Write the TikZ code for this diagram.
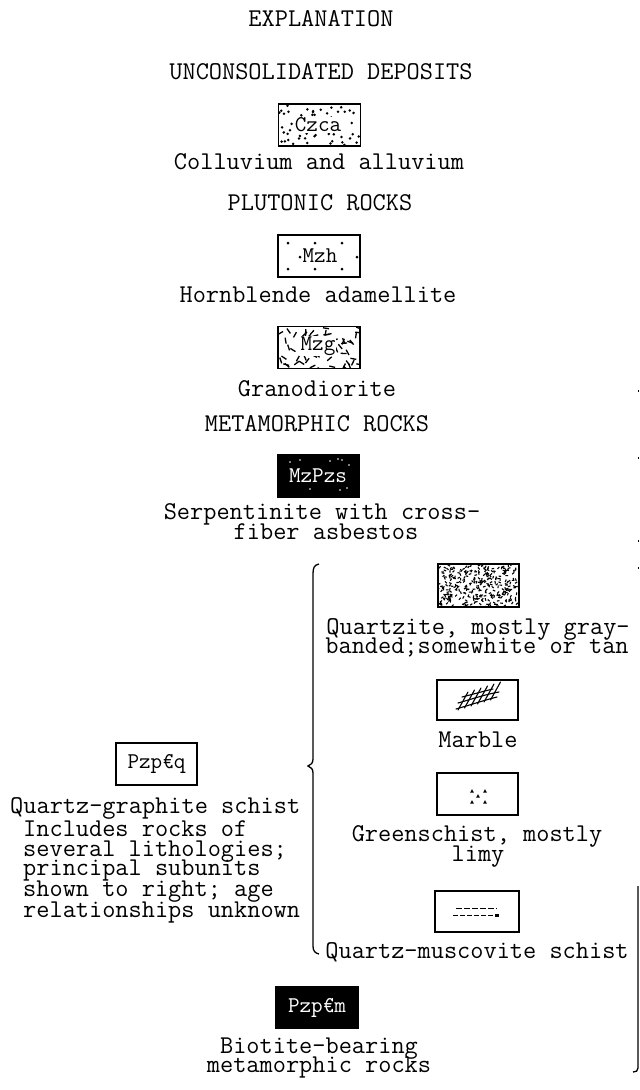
\documentclass[tikz,border=0pt]{standalone}
\usepackage{fontspec}
\newcommand\twfont{\ttfamily\addfontfeatures{FakeBold=2.2}}
\tikzset{
  txt/.style={font=\twfont\fontsize{25.6}{22}\selectfont, inner sep=0pt, anchor=base},
  ltxt/.style={txt, anchor=base west},
  boxlbl/.style={font=\twfont\fontsize{22.5}{22}\selectfont, inner sep=1pt},
  legbox/.style={draw, line width=1.4pt, inner sep=0pt, minimum width=82pt, minimum height=42pt},
  blackbox/.style={legbox, fill=black},
  brace/.style={line width=1.3pt},
  speck/.style={line width=1.1pt},
}
\begin{document}
\begin{tikzpicture}[x=1pt,y=-1pt]
\useasboundingbox (0,0) rectangle (640,1090);
\fill[white] (0,0) rectangle (640,1090);
\pgfmathsetseed{7}

% ---------- headings and centred texts ----------
\node[txt] (h1) at (321,26) {EXPLANATION};
\node[txt] (h2) at (321,79) {UNCONSOLIDATED DEPOSITS};
\node[txt] (d1) at (319,169) {Colluvium and alluvium};
\node[txt] (h3) at (320,210) {PLUTONIC ROCKS};
\node[txt] (d2) at (318,302) {Hornblende adamellite};
\node[txt] (d3) at (317,396) {Granodiorite};
\node[txt] (h4) at (317,431) {METAMORPHIC ROCKS};
\node[txt] (d4a) at (322,519) {Serpentinite with cross-};
\node[txt] (d4b) at (326,539) {fiber asbestos};

% ---------- Czca ----------
\begin{scope}
  \clip (279,105) rectangle (360,145);
  \foreach \i in {1,...,55}{
    \pgfmathsetmacro\rx{279+81*rnd}
    \pgfmathsetmacro\ry{105+40*rnd}
    \fill (\rx,\ry) circle (1.4);
  }
\end{scope}
\node[boxlbl, fill=white] (lczca) at (318,125) {Czca};
\node[legbox] (bczca) at (319.5,125) {};

% ---------- Mzh ----------
\node[legbox] (bmzh) at (319,256) {};
\foreach \px/\py in {288/243,315/243,342/243,288/269,315/269,342/269,300/257,357/257}
  \fill (\px,\py) circle (1.5);
\node[boxlbl] (lmzh) at (320,256) {Mzh};

% ---------- Mzg ----------
\begin{scope}
  \clip (279,327) rectangle (359,368);
  \foreach \i in {1,...,65}{
    \pgfmathsetmacro\rx{279+80*rnd}
    \pgfmathsetmacro\ry{327+41*rnd}
    \pgfmathsetmacro\ra{180*rnd}
    \draw[line width=1.3pt] (\rx,\ry) -- ++(\ra:6);
  }
\end{scope}
\node[boxlbl, fill=white, inner sep=0.5pt] (lmzg) at (318,346) {Mzg};
\node[legbox] (bmzg) at (319,347.5) {};

% ---------- MzPzs ----------
\node[blackbox] (bmzpzs) at (318.5,476) {};
\foreach \px/\py in {290/462,300/460,330/461,338/459,342/460,349/465,340/490,347/488,310/489}
  \fill[white] (\px,\py) circle (0.8);
\node[boxlbl, text=white] (lmzpzs) at (318,476) {MzPzs};

% ---------- right column ----------
\begin{scope}
  \clip (438,564) rectangle (519,607);
  \foreach \i in {1,...,320}{
    \pgfmathsetmacro\rx{438+81*rnd}
    \pgfmathsetmacro\ry{564+43*rnd}
    \pgfmathsetmacro\ra{360*rnd}
    \draw[speck] (\rx,\ry) -- ++(\ra:2.6);
  }
\end{scope}
\node[legbox, line width=2pt, minimum width=81pt, minimum height=43pt] (bqtz) at (478.5,585.5) {};
\node[txt] (r1a) at (478,634) {Quartzite, mostly gray-};
\node[txt] (r1b) at (477,653) {banded;somewhite or tan};

\node[legbox, minimum width=81pt, minimum height=40pt] (bmar) at (477.5,700) {};
\draw[line width=1.1pt, line cap=round]
  (456,709) .. controls (470,705) and (485,700) .. (497,697)
  (458,703) .. controls (472,699) and (487,694) .. (499,692)
  (462,697) .. controls (474,694) and (484,691) .. (493,689);
\foreach \k in {0,...,5}
  \draw[line width=1.1pt, line cap=round] (458+6.5*\k,710-2*\k) -- (468+6.5*\k,692-2*\k);
\node[txt] (r2) at (478,747) {Marble};

\node[legbox, minimum width=81pt, minimum height=42pt] (bgrn) at (477.5,794) {};
\foreach \px/\py in {472/791,485/791,478/796,472/802,485/802}
  \fill (\px-1.8,\py+1.5) -- (\px+1.8,\py+1.5) -- (\px,\py-1.8) -- cycle;
\node[txt] (r3a) at (477,841) {Greenschist, mostly};
\node[txt] (r3b) at (478,861) {limy};

\node[legbox, minimum width=84pt, minimum height=41pt] (bqm) at (477,911.5) {};
\draw[line width=1pt, dash pattern=on 6pt off 2pt] (456,908) -- (497,908);
\draw[line width=1pt, dash pattern=on 5pt off 2pt] (453,915) -- (496,915);
\fill (495,913.5) rectangle (499,917);
\node[txt] (r4) at (477,958) {Quartz-muscovite schist};

% ---------- left unit ----------
\node[legbox, minimum width=81pt, minimum height=42pt] (bpzq) at (156.5,764) {};
\node[boxlbl] (lpzq) at (156.5,764) {Pzp€q};
\node[ltxt] (l1) at (10,813) {Quartz-graphite schist};
\node[ltxt] (l2) at (23,836) {Includes rocks of};
\node[ltxt] (l3) at (23,856) {several lithologies;};
\node[ltxt] (l4) at (23,875) {principal subunits};
\node[ltxt] (l5) at (23,896) {shown to right; age};
\node[ltxt] (l6) at (23,917) {relationships unknown};

% ---------- braces ----------
\coordinate (btop) at (319,564);
\coordinate (btip) at (308,766);
\coordinate (bbot) at (319,954);
\draw[brace] (btop) .. controls (314,565) and (313,568) .. (313,574)
  -- (313,759) .. controls (313,763) and (311,765) .. (btip)
  .. controls (311,767) and (313,769) .. (313,773)
  -- (313,946) .. controls (313,951) and (315,953) .. (bbot);

\coordinate (rtop) at (638,886);
\coordinate (rbot) at (633,1072);
\draw[brace] (rtop) -- (638,1068) .. controls (638,1071) and (636,1072) .. (rbot);
\foreach \py in {390,457,540,567}
  \draw[line width=1pt] (638,\py) -- (638,\py+2);

% ---------- biotite ----------
\node[blackbox] (bbio) at (317,1007.5) {};
\node[boxlbl, text=white] (lbio) at (317,1007.5) {Pzp€m};
\node[txt] (b1) at (319,1053) {Biotite-bearing};
\node[txt] (b2) at (319,1072) {metamorphic rocks};
\end{tikzpicture}
\end{document}
